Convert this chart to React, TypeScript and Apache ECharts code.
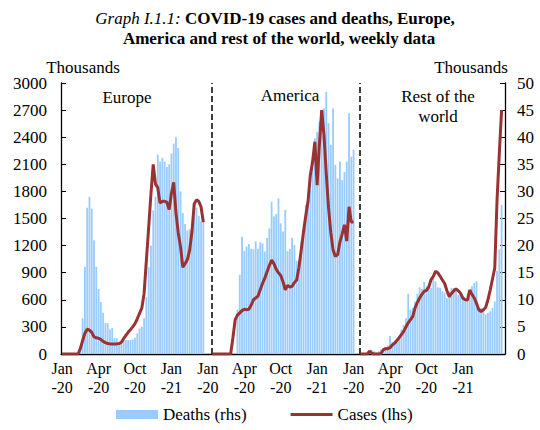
import React, { useEffect, useRef } from "react";
import * as echarts from "echarts";

const FONT = "'Liberation Serif', 'Times New Roman', serif";

// Weekly data, thousands. Each region runs from Jan-20 to Mar-21.
const europeCases = [
  0, 0, 0, 0, 0, 0, 0, 0,
  60, 150, 230, 275, 265, 240, 190, 180, 175, 160,
  140, 125, 115, 112, 112, 112, 112, 115, 130, 170,
  205, 240, 270, 300, 335, 390, 450, 510, 670, 1040,
  1400, 1770, 2100, 1880, 1840, 1670, 1690, 1690, 1680, 1600,
  1780, 1900, 1560, 1340, 1185, 960, 1000, 1045, 1150, 1350,
  1660, 1706, 1690, 1630, 1460,
];
const europeDeaths = [
  0, 0, 0, 0, 0, 0, 0, 0,
  1.5, 6.6, 16.1, 27, 29, 26.8, 21, 16.1, 12, 9.6,
  7.6, 5.7, 5.7, 4.5, 4.8, 2.9, 2.9, 2.2, 2.0, 2.6,
  2.6, 2.6, 2.6, 2.7, 3.0, 3.8, 4.7, 5.0, 6.6, 10.5,
  16, 20, 26.5, 29, 36.8, 35.5, 36.2, 35.5, 34.5, 35,
  37, 38.8, 40, 38, 30, 26, 24, 22.8, 23, 24,
  26.5, 27, 25.5, 24.5, 25.5,
];
const americaCases = [
  0, 0, 0, 0, 0, 0, 0, 0, 0,
  180, 380, 430, 455, 480, 495, 490, 495, 540, 600,
  620, 640, 710, 780, 840, 910, 980, 1040, 1000, 940,
  900, 870, 800, 711, 760, 740, 750, 790, 820, 960,
  1150, 1350, 1530, 1690, 1980, 2130, 2350, 1870, 2330, 2700,
  2420, 2000, 1620, 1340, 1150, 1080, 1100, 1240, 1330, 1430,
  1250, 1630, 1460, 1460,
];
const americaDeaths = [
  0, 0, 0, 0, 0, 0, 0, 0, 0, 0, 0,
  8.2, 14.6, 21.7, 19.0, 19.8, 20.3, 19.4, 19.3, 20.8, 19.4,
  20.6, 20.4, 18.9, 21.4, 23.2, 28.1, 25.4, 25.8, 28.7, 24.1,
  22.6, 26.6, 19.0, 19.4, 21.4, 20.1, 17.2, 17.3, 20.8, 22.0,
  27.5, 28.1, 30.3, 35.5, 39.8, 41.0, 42.9, 44.4, 45.3, 48.4,
  42.6, 38.6, 45.3, 34.9, 32.4, 35.5, 32.1, 33.6, 35.5, 44.4,
  36.4, 37.7,
];
const restCases = [
  0, 0, 0, 0,
  30, 10, 0, 0, 0, 5, 45, 59, 59, 70,
  100, 118, 150, 180, 215, 250, 300, 345, 380, 417,
  510, 570, 620, 660, 693, 705, 740, 822, 860, 915,
  900, 860, 820, 780, 700, 634, 670, 700, 720, 700,
  671, 620, 600, 597, 708, 660, 620, 560, 490, 470,
  490, 515, 600, 708, 830, 950, 1700, 2220, 2700,
];
const restDeaths = [
  0, 0, 0, 0, 0,
  0.8, 0.5, 0.3, 0.5, 0.8, 1.0, 1.2, 1.6, 3.3, 2.2,
  2.5, 2.8, 3.3, 4.5, 5.4, 6.6, 11.1, 8.2, 8.5, 9.7,
  11.1, 12.3, 12.0, 13.3, 12.5, 12.6, 12.2, 14.0, 13.4, 12.3,
  12.2, 11.6, 11.3, 10.3, 11.6, 12.2, 12.2, 11.6, 10.9, 11.5,
  10.3, 9.7, 9.9, 10.9, 12.5, 13.1, 13.4, 8.5, 8.5, 8.3,
  7.3, 7.6, 7.9, 8.5, 9.7, 15.3, 19.3, 27.5,
];

// Category slot where each region's block starts, and total slots on the axis
const panelStarts = [0, 66, 131];
const totalSlots = 195;
const dividerSlots = [66, 131];
const labelEvery = 16;
const tickLabels = [
  "Jan\n-20", "Apr\n-20", "Oct\n-20", "Jan\n-21",
  "Jan\n-20", "Apr\n-20", "Oct\n-20", "Jan\n-21",
  "Jan\n-20", "Apr\n-20", "Oct\n-20", "Jan\n-21",
];
const panelNames = ["Europe", "America", "Rest of the\nworld"];

function place(parts: number[][]): (number | null)[] {
  const out: (number | null)[] = new Array(totalSlots).fill(null);
  parts.forEach((arr, p) => {
    arr.forEach((v, i) => {
      out[panelStarts[p] + i] = v;
    });
  });
  return out;
}

// thin horizontal band centred in the legend icon box (bbox 42 x 9)
const LINE_ICON =
  "path://M0,0L42,0L42,0.01L0,0.01Z M0,3L42,3L42,6L0,6Z M0,8.99L42,8.99L42,9L0,9Z";

export default function App() {
  const ref = useRef<HTMLDivElement>(null);

  useEffect(() => {
    if (!ref.current) return;
    const chart = echarts.init(ref.current, undefined, { renderer: "svg" });
    const categories = Array.from({ length: totalSlots }, (_, i) => String(i));
    const cases = place([europeCases, americaCases, restCases]);
    const deaths = place([europeDeaths, americaDeaths, restDeaths]);

    const panelLabelPos = [
      [127, 97],
      [290, 95],
      [438, 106],
    ];

    const option: any = {
      animation: false,
      backgroundColor: "#ffffff",
      textStyle: { fontFamily: FONT, color: "#000" },
      grid: { left: 61, right: 35, top: 83, bottom: 76 },
      legend: {
        left: 116,
        top: 406,
        padding: 0,
        itemWidth: 42,
        itemHeight: 9,
        itemGap: 44,
        textStyle: { fontFamily: FONT, fontSize: 17, color: "#000" },
        data: [
          { name: "Deaths (rhs)", icon: "rect" },
          { name: "Cases (lhs)", icon: LINE_ICON },
        ],
      },
      graphic: [
        {
          type: "text",
          x: 275,
          y: 18,
          style: {
            text: "{i|Graph I.1.1:} {b|COVID-19 cases and deaths, Europe,}",
            align: "center",
            verticalAlign: "middle",
            font: `17px ${FONT}`,
            fill: "#000",
            rich: {
              i: { fontStyle: "italic", fontSize: 17, fontFamily: FONT },
              b: { fontWeight: "bold", fontSize: 17, fontFamily: FONT },
            },
          },
        },
        {
          type: "text",
          x: 279,
          y: 38,
          style: {
            text: "America and rest of the world, weekly data",
            align: "center",
            verticalAlign: "middle",
            font: `bold 17px ${FONT}`,
            fill: "#000",
          },
        },
        {
          type: "text",
          x: 83,
          y: 67,
          style: { text: "Thousands", align: "center", verticalAlign: "middle", font: `17px ${FONT}`, fill: "#000" },
        },
        {
          type: "text",
          x: 471,
          y: 67,
          style: { text: "Thousands", align: "center", verticalAlign: "middle", font: `17px ${FONT}`, fill: "#000" },
        },
        ...panelNames.map((name, k) => ({
          type: "text",
          x: panelLabelPos[k][0],
          y: panelLabelPos[k][1],
          style: {
            text: name,
            align: "center",
            verticalAlign: "middle",
            font: `17px ${FONT}`,
            lineHeight: 20,
            fill: "#000",
          },
        })),
      ],
      xAxis: [
        {
          type: "category",
          data: categories,
          axisLine: { show: true, lineStyle: { color: "#000", width: 1.3 } },
          axisTick: { show: false },
          splitLine: { show: false },
          axisLabel: {
            interval: labelEvery - 1,
            formatter: (_v: string, i: number) => tickLabels[Math.round(i / labelEvery)] ?? "",
            fontFamily: FONT,
            fontSize: 16,
            lineHeight: 19,
            margin: 5,
            color: "#000",
          },
        },
        { type: "value", min: 0, max: totalSlots, show: false },
      ],
      yAxis: [
        {
          type: "value",
          min: 0,
          max: 3000,
          interval: 300,
          position: "left",
          axisLine: { show: true, lineStyle: { color: "#000", width: 1.3 } },
          axisTick: { show: true, inside: true, length: 5, lineStyle: { color: "#000" } },
          splitLine: { show: false },
          axisLabel: {
            fontFamily: FONT,
            fontSize: 17,
            color: "#000",
            margin: 14,
            formatter: (v: number) => String(v),
          },
        },
        {
          type: "value",
          min: 0,
          max: 50,
          interval: 5,
          position: "right",
          axisLine: { show: true, lineStyle: { color: "#000", width: 1.3 } },
          axisTick: { show: true, inside: true, length: 5, lineStyle: { color: "#000" } },
          splitLine: { show: false },
          axisLabel: {
            fontFamily: FONT,
            fontSize: 17,
            color: "#000",
            margin: 12,
            formatter: (v: number) => String(v),
          },
        },
      ],
      series: [
        {
          name: "Deaths (rhs)",
          type: "bar",
          xAxisIndex: 0,
          yAxisIndex: 1,
          data: deaths,
          barCategoryGap: "20%",
          itemStyle: { color: "#99CCFF" },
        },
        {
          name: "Cases (lhs)",
          type: "line",
          xAxisIndex: 0,
          yAxisIndex: 0,
          data: cases,
          symbol: "none",
          showSymbol: false,
          connectNulls: false,
          lineStyle: { color: "#993333", width: 3 },
          itemStyle: { color: "#993333" },
          z: 5,
        },
        {
          name: "dividers",
          type: "line",
          xAxisIndex: 1,
          yAxisIndex: 0,
          data: [],
          symbol: "none",
          markLine: {
            silent: true,
            symbol: ["none", "none"],
            label: { show: false },
            lineStyle: { color: "#000", type: [6, 3], width: 1.5 },
            data: dividerSlots.map((v) => ({ xAxis: v })),
          },
        },
      ],
    };

    chart.setOption(option);
    return () => {
      chart.dispose();
    };
  }, []);

  return (
    <div
      ref={ref}
      style={{ position: "absolute", left: 0, top: 0, width: 540, height: 430 }}
    />
  );
}
